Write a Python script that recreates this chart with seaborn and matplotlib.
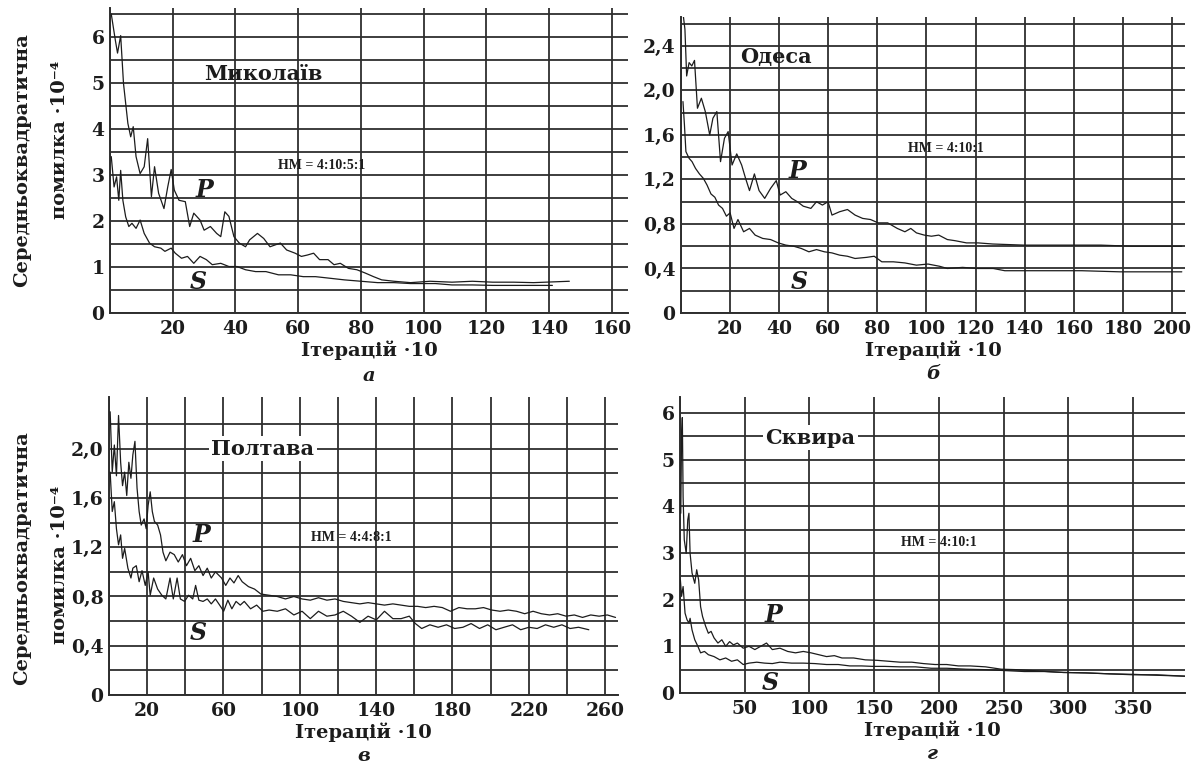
import numpy as np
import pandas as pd
import matplotlib
matplotlib.use("Agg")
import matplotlib.pyplot as plt
from matplotlib.ticker import FixedLocator, FuncFormatter
import seaborn as sns

# ---------------- data ----------------
# Panel а — Миколаїв
a_p_x = [0.4, 1.7, 2.4, 3.4, 4.3, 5.7, 6.6, 7.4, 8.3, 9.6, 10.9, 12, 13.2, 14.2, 15.5, 17.2, 18.4, 19.5,
         20.5, 22, 24, 25.4, 26.7, 28.7, 30, 32, 34, 35.3, 36.6, 37.9, 39.5, 41.2, 43.2, 44.5, 47, 49, 51,
         54.3, 56.3, 59, 61, 62.9, 64.9, 66.8, 69.5, 71.4, 73.4, 76, 78.7, 81.3, 84, 86.6, 90.5, 95.8, 102,
         109, 115.5, 122, 128.7, 135, 146.4]
a_p_y = [6.5, 5.93, 5.65, 6.03, 4.99, 4.12, 3.83, 4.05, 3.4, 3.03, 3.18, 3.79, 2.53, 3.18, 2.6, 2.27, 2.74, 3.12,
         2.67, 2.45, 2.42, 1.88, 2.17, 2.02, 1.8, 1.88, 1.73, 1.66, 2.2, 2.1, 1.66, 1.52, 1.44, 1.59, 1.73, 1.62, 1.44,
         1.52, 1.37, 1.3, 1.23, 1.26, 1.3, 1.16, 1.16, 1.05, 1.08, 0.97, 0.94, 0.87, 0.79, 0.72, 0.69, 0.66, 0.69,
         0.67, 0.69, 0.67, 0.67, 0.66, 0.69]
a_s_x = [0.4, 1.3, 2.1, 2.8, 3.4, 4.1, 5, 6, 7, 8.3, 9.6, 10.9, 12.6, 14.2, 16.2, 17.5, 19.5, 20.8, 22.8, 24.7,
         26.7, 28.7, 30.7, 32.6, 35.3, 37.9, 40.5, 43.2, 46.4, 49.7, 53.7, 57.6, 61.6, 65.5, 69.5, 74.7, 80,
         85.3, 90.5, 95.8, 103.7, 109, 115.5, 122, 132.6, 141]
a_s_y = [3.4, 2.74, 2.96, 2.45, 3.1, 2.45, 2.09, 1.88, 1.95, 1.84, 2.02, 1.73, 1.52, 1.44, 1.41, 1.34, 1.41, 1.3,
         1.19, 1.23, 1.08, 1.23, 1.16, 1.05, 1.08, 1.01, 1.01, 0.94, 0.9, 0.9, 0.83, 0.83, 0.79, 0.79, 0.76, 0.72,
         0.69, 0.66, 0.66, 0.64, 0.64, 0.61, 0.61, 0.6, 0.6, 0.6]

# Panel б — Одеса
b_p_x = [1, 1.6, 2.3, 3.3, 4.4, 5.5, 6.7, 8.3, 9.9, 11.7, 13, 14.6, 16.1, 17.7, 19.2, 20.8, 22.7, 24.7, 26.3,
         27.9, 29.9, 31.8, 34.1, 36.5, 38.8, 40.4, 42.7, 45.1, 47.4, 49.8, 52.9, 55.2, 57.6, 59.9, 61.5, 64.6,
         67.8, 70.9, 74, 77.2, 80.3, 84.2, 88.1, 91.2, 93.6, 95.9, 99.1, 102, 105, 108.5, 111.6, 116.3, 121,
         127, 139.7, 155.4, 171, 183.6, 204]
b_p_y = [2.66, 2.55, 2.13, 2.25, 2.22, 2.27, 1.84, 1.93, 1.81, 1.6, 1.75, 1.81, 1.36, 1.57, 1.63, 1.33, 1.43,
         1.33, 1.21, 1.1, 1.25, 1.1, 1.03, 1.12, 1.19, 1.06, 1.09, 1.03, 1.0, 0.96, 0.94, 1.0, 0.97, 1.0, 0.88,
         0.91, 0.93, 0.88, 0.85, 0.84, 0.81, 0.81, 0.76, 0.73, 0.76, 0.72, 0.7, 0.69, 0.7, 0.66, 0.65, 0.63,
         0.63, 0.62, 0.61, 0.61, 0.61, 0.6, 0.6]
b_s_x = [0.8, 1.4, 2, 3.3, 4.5, 5.9, 7.5, 9.1, 10.6, 12.2, 13.8, 15.3, 16.9, 18.5, 20, 21.6, 23.2, 25.5, 27.9,
         30.2, 33.3, 36.5, 39.6, 42.7, 45.9, 49, 52.1, 55.2, 58.4, 61.5, 64.6, 67.8, 70.9, 75.6, 78.7, 81.8,
         86.5, 91.2, 95.9, 100.6, 105.3, 108.5, 114.7, 121, 127.2, 131.9, 147.6, 163.2, 178.9, 204]
b_s_y = [1.9, 1.69, 1.45, 1.39, 1.36, 1.3, 1.25, 1.21, 1.15, 1.07, 1.04, 0.97, 0.94, 0.87, 0.9, 0.76, 0.84,
         0.73, 0.76, 0.7, 0.67, 0.66, 0.63, 0.61, 0.6, 0.58, 0.55, 0.57, 0.55, 0.54, 0.52, 0.51, 0.49, 0.5,
         0.51, 0.46, 0.46, 0.45, 0.43, 0.44, 0.42, 0.4, 0.41, 0.4, 0.4, 0.38, 0.38, 0.38, 0.37, 0.37]

# Panel в — Полтава
c_p_x = [0.6, 1.7, 2.8, 3.9, 5, 6.1, 7.1, 8.2, 9.3, 10.4, 11.5, 12.5, 13.6, 14.7, 15.8, 16.9, 18.4, 19.5,
         20.5, 21.6, 22.7, 23.8, 25.5, 27, 28.3, 29.8, 32, 34.2, 36.3, 38.5, 40.6, 42.8, 45, 47.1, 49.3, 51.5,
         53.6, 55.8, 59, 61.2, 63.4, 65.5, 67.7, 69.8, 73.1, 76.3, 79.6, 83.9, 88.2, 92.5, 96.9, 101.2, 105.5,
         109.8, 114.2, 118.5, 122.8, 127.1, 131.5, 135.8, 140.1, 144.4, 148.8, 153.1, 157.4, 161.7, 166,
         170.4, 174.7, 179, 183.4, 187.7, 192, 196.3, 200.6, 205, 209.3, 213.6, 217.9, 222.3, 226.6, 230.9,
         235.2, 239.6, 243.9, 248.2, 252.5, 256.9, 261.2, 265.5]
c_p_y = [2.3, 1.81, 2.03, 1.78, 2.27, 1.89, 1.7, 1.81, 1.62, 1.89, 1.76, 1.95, 2.06, 1.68, 1.49, 1.38, 1.43,
         1.35, 1.54, 1.65, 1.49, 1.41, 1.38, 1.3, 1.16, 1.09, 1.16, 1.14, 1.08, 1.14, 1.05, 1.11, 1.01, 1.05,
         0.97, 1.03, 0.95, 1.0, 0.95, 0.89, 0.95, 0.91, 0.97, 0.92, 0.88, 0.86, 0.82, 0.81, 0.8, 0.78, 0.8,
         0.78, 0.77, 0.79, 0.77, 0.78, 0.76, 0.75, 0.74, 0.75, 0.74, 0.73, 0.74, 0.73, 0.72, 0.72, 0.71, 0.72,
         0.71, 0.68, 0.71, 0.7, 0.7, 0.71, 0.69, 0.68, 0.69, 0.68, 0.66, 0.68, 0.66, 0.65, 0.66, 0.64, 0.65,
         0.63, 0.65, 0.64, 0.65, 0.63]
c_s_x = [0.6, 1.7, 2.8, 3.9, 5, 6.1, 7.1, 8.2, 9.9, 11.5, 12.5, 14.3, 15.8, 17.3, 19, 20.5, 21.6, 23.4, 25.5,
         27.7, 29.8, 32, 33.7, 35.7, 37.4, 39.6, 41.7, 43.9, 45.4, 47.1, 49.3, 51.5, 53.6, 55.8, 58, 60.1,
         62.3, 64.4, 66.6, 68.8, 70.9, 74.2, 77.4, 80.6, 83.9, 88.2, 92.5, 96.9, 101.2, 105.5, 109.8, 114.2,
         118.5, 122.8, 127.1, 131.5, 135.8, 140.1, 144.4, 148.8, 153.1, 157.4, 160.6, 163.9, 168.2, 172.5,
         176.9, 181.2, 185.5, 189.8, 194.2, 198.5, 202.8, 207.1, 211.5, 215.8, 220.1, 224.4, 228.8, 233.1,
         237.4, 241.7, 246.1, 251.5]
c_s_y = [1.81, 1.49, 1.57, 1.35, 1.22, 1.3, 1.11, 1.19, 1.03, 0.95, 1.03, 1.05, 0.92, 1.01, 0.89, 1.0, 0.81,
         0.95, 0.86, 0.81, 0.78, 0.95, 0.78, 0.95, 0.78, 0.76, 0.81, 0.78, 0.89, 0.77, 0.76, 0.78, 0.74, 0.78,
         0.73, 0.68, 0.77, 0.7, 0.76, 0.73, 0.76, 0.7, 0.73, 0.68, 0.69, 0.68, 0.7, 0.65, 0.68, 0.62, 0.68,
         0.64, 0.65, 0.68, 0.64, 0.59, 0.64, 0.61, 0.68, 0.62, 0.62, 0.64, 0.58, 0.54, 0.57, 0.55, 0.57, 0.54,
         0.55, 0.58, 0.54, 0.57, 0.53, 0.55, 0.57, 0.53, 0.55, 0.54, 0.57, 0.55, 0.57, 0.54, 0.55, 0.53]

# Panel г — Сквира
d_p_x = [0.6, 1.2, 1.8, 2.4, 3.3, 4.8, 6, 6.9, 7.8, 9.3, 11.4, 12.9, 14.4, 15.9, 17.4, 19.8, 21.9, 24, 26.3,
         29.3, 32.3, 35.3, 38.3, 41.3, 44.3, 48.8, 53.3, 57.8, 62.3, 66.8, 71.3, 77.2, 83.2, 89.2, 95.2,
         101.2, 107.2, 113.2, 119.2, 125.1, 134.1, 143.1, 152.1, 161.1, 170, 179, 188, 197, 206, 215, 224,
         236, 248, 260, 272, 284, 296, 314, 332, 350, 368, 390]
d_p_y = [3.85, 5.49, 5.9, 4.2, 3.28, 2.99, 3.71, 3.85, 2.99, 2.57, 2.35, 2.64, 2.42, 1.85, 1.64, 1.43, 1.28,
         1.32, 1.18, 1.07, 1.14, 1.0, 1.1, 1.03, 1.07, 0.96, 1.0, 0.93, 1.0, 1.07, 0.93, 0.96, 0.89, 0.86, 0.89,
         0.86, 0.82, 0.78, 0.8, 0.75, 0.75, 0.71, 0.7, 0.68, 0.66, 0.66, 0.63, 0.61, 0.61, 0.58, 0.58, 0.56,
         0.51, 0.5, 0.48, 0.46, 0.44, 0.43, 0.41, 0.39, 0.39, 0.36]
d_s_x = [0.3, 1.2, 2.4, 3.9, 5.4, 6.9, 7.8, 9.3, 11.4, 13.8, 15.9, 18.9, 21.9, 26.3, 30.8, 35.3, 39.8, 44.3,
         48.8, 53.3, 59.3, 65.3, 71.3, 77.2, 86.2, 95.2, 104.2, 113.2, 122.2, 131.1, 140.1, 149.1, 158.1,
         170, 182, 194, 206, 221, 236, 251, 266, 281, 296, 314, 332, 350, 368, 390]
d_s_y = [2.42, 2.07, 2.28, 1.71, 1.57, 1.5, 1.6, 1.35, 1.14, 1.0, 0.86, 0.89, 0.82, 0.78, 0.71, 0.75, 0.68,
         0.71, 0.61, 0.64, 0.66, 0.64, 0.63, 0.66, 0.64, 0.64, 0.63, 0.61, 0.61, 0.58, 0.58, 0.57, 0.57, 0.56,
         0.56, 0.53, 0.53, 0.51, 0.5, 0.48, 0.46, 0.46, 0.44, 0.43, 0.41, 0.4, 0.38, 0.36]

panel_letters = ["а", "б", "в", "г"]
cities = ["Миколаїв", "Одеса", "Полтава", "Сквира"]
hm_labels = ["НМ = 4:10:5:1", "НМ = 4:10:1", "НМ = 4:4:8:1", "НМ = 4:10:1"]
ylabel_1 = "Середньоквадратична"
ylabel_2 = "помилка ·10⁻⁴"
xlabel = "Ітерацій ·10"

# ---------------- styling ----------------
sns.set_theme(style="white")
plt.rcParams["font.family"] = ["DejaVu Serif", "DejaVu Sans"]
plt.rcParams["font.weight"] = "bold"

INK = "#1c1c1c"
GRID = "#2e2e2e"
W, H = 1204, 772
fig = plt.figure(figsize=(W / 100, H / 100), dpi=100)
fig.patch.set_facecolor("white")


def px_axes(left, right, top, bottom):
    return fig.add_axes([left / W, 1 - bottom / H, (right - left) / W, (bottom - top) / H])


def comma_fmt(v, pos):
    if abs(v) < 1e-9:
        return "0"
    return f"{v:.1f}".replace(".", ",")


def int_fmt(v, pos):
    return f"{int(round(v))}"


panels = [
    dict(box=(110, 628, 8, 313), xlim=165.1, ylim=6.63,
         xmaj=np.arange(20, 161, 20), xgrid=np.arange(0, 161, 20),
         ymaj=np.arange(0, 7, 1), ygrid=np.arange(0, 6.51, 0.5), yfmt=int_fmt,
         p=(a_p_x, a_p_y), s=(a_s_x, a_s_y),
         city=(49, 5.2, False), hm=(67.6, 3.2), P=(30, 2.67), S=(28, 0.68)),
    dict(box=(681, 1185, 17, 313), xlim=205.3, ylim=2.66,
         xmaj=np.arange(20, 201, 20), xgrid=np.arange(0, 201, 20),
         ymaj=np.arange(0, 2.41, 0.4), ygrid=np.arange(0, 2.61, 0.2), yfmt=comma_fmt,
         p=(b_p_x, b_p_y), s=(b_s_x, b_s_y),
         city=(38.8, 2.3, False), hm=(108, 1.48), P=(47.4, 1.28), S=(48.2, 0.28)),
    dict(box=(109, 618, 397, 695), xlim=266.8, ylim=2.42,
         xmaj=np.arange(20, 261, 40), xgrid=np.arange(0, 261, 20),
         ymaj=np.arange(0, 2.01, 0.4), ygrid=np.arange(0, 2.21, 0.2), yfmt=comma_fmt,
         p=(c_p_x, c_p_y), s=(c_s_x, c_s_y),
         city=(80.6, 2.0, True), hm=(127, 1.28), P=(48.2, 1.3), S=(47, 0.5)),
    dict(box=(680, 1185, 397, 693), xlim=390, ylim=6.34,
         xmaj=np.arange(50, 351, 50), xgrid=np.arange(0, 351, 50),
         ymaj=np.arange(0, 7, 1), ygrid=np.arange(0, 6.01, 0.5), yfmt=int_fmt,
         p=(d_p_x, d_p_y), s=(d_s_x, d_s_y),
         city=(100.6, 5.47, True), hm=(200, 3.23), P=(72, 1.67), S=(70, 0.21)),
]

for i, pn in enumerate(panels):
    ax = px_axes(*pn["box"])
    ax.set_facecolor("white")
    df = pd.concat([
        pd.DataFrame({"x": pn["p"][0], "y": pn["p"][1], "series": "P"}),
        pd.DataFrame({"x": pn["s"][0], "y": pn["s"][1], "series": "S"}),
    ])
    sns.lineplot(data=df, x="x", y="y", hue="series", palette={"P": INK, "S": INK},
                 estimator=None, sort=False, legend=False, lw=0.9, ax=ax, zorder=3)
    ax.set_xlim(0, pn["xlim"])
    ax.set_ylim(0, pn["ylim"])

    ax.xaxis.set_major_locator(FixedLocator(pn["xmaj"]))
    ax.xaxis.set_minor_locator(FixedLocator(pn["xgrid"]))
    ax.yaxis.set_major_locator(FixedLocator(pn["ymaj"]))
    ax.yaxis.set_minor_locator(FixedLocator(pn["ygrid"]))
    ax.xaxis.set_major_formatter(FuncFormatter(int_fmt))
    ax.yaxis.set_major_formatter(FuncFormatter(pn["yfmt"]))
    ax.grid(True, which="both", axis="both", color=GRID, lw=1.3, zorder=1)
    ax.set_axisbelow(True)
    ax.tick_params(which="both", length=0)
    ax.tick_params(axis="x", pad=5, labelsize=13.5)
    ax.tick_params(axis="y", pad=4, labelsize=13.5)
    for lab in ax.get_xticklabels() + ax.get_yticklabels():
        lab.set_fontweight("bold")
        lab.set_color(INK)
    for sp in ["top", "right"]:
        ax.spines[sp].set_visible(False)
    for sp in ["left", "bottom"]:
        ax.spines[sp].set_color(GRID)
        ax.spines[sp].set_linewidth(1.4)

    ax.set_xlabel(xlabel, fontsize=14, fontweight="bold", color=INK, labelpad=2)
    ax.set_ylabel("")
    ax.text(0.5, -0.205, panel_letters[i], transform=ax.transAxes, ha="center", va="center",
            fontsize=14, fontweight="bold", style="italic", color=INK)

    cx, cy, boxed = pn["city"]
    kw = dict(fontsize=15, fontweight="bold", color=INK, ha="center", va="center", zorder=5)
    if boxed:
        kw["bbox"] = dict(facecolor="white", edgecolor="none", pad=2)
    ax.text(cx, cy, cities[i], **kw)
    ax.text(pn["hm"][0], pn["hm"][1], hm_labels[i], fontsize=10, fontweight="bold",
            family=["Liberation Serif", "DejaVu Serif"], color=INK, ha="center", va="center", zorder=5)
    ax.text(pn["P"][0], pn["P"][1], "P", fontsize=17, fontweight="bold", style="italic",
            color=INK, ha="center", va="center", zorder=5)
    ax.text(pn["S"][0], pn["S"][1], "S", fontsize=17, fontweight="bold", style="italic",
            color=INK, ha="center", va="center", zorder=5)

# y-axis titles for the left column
for yc1, yc2 in [(160, 140), (558, 565)]:
    fig.text(22 / W, 1 - yc1 / H, ylabel_1, rotation=90, ha="center", va="center",
             fontsize=14, fontweight="bold", color=INK)
    fig.text(60 / W, 1 - yc2 / H, ylabel_2, rotation=90, ha="center", va="center",
             fontsize=14, fontweight="bold", color=INK)

fig.savefig("out.png", dpi=100, facecolor="white")
